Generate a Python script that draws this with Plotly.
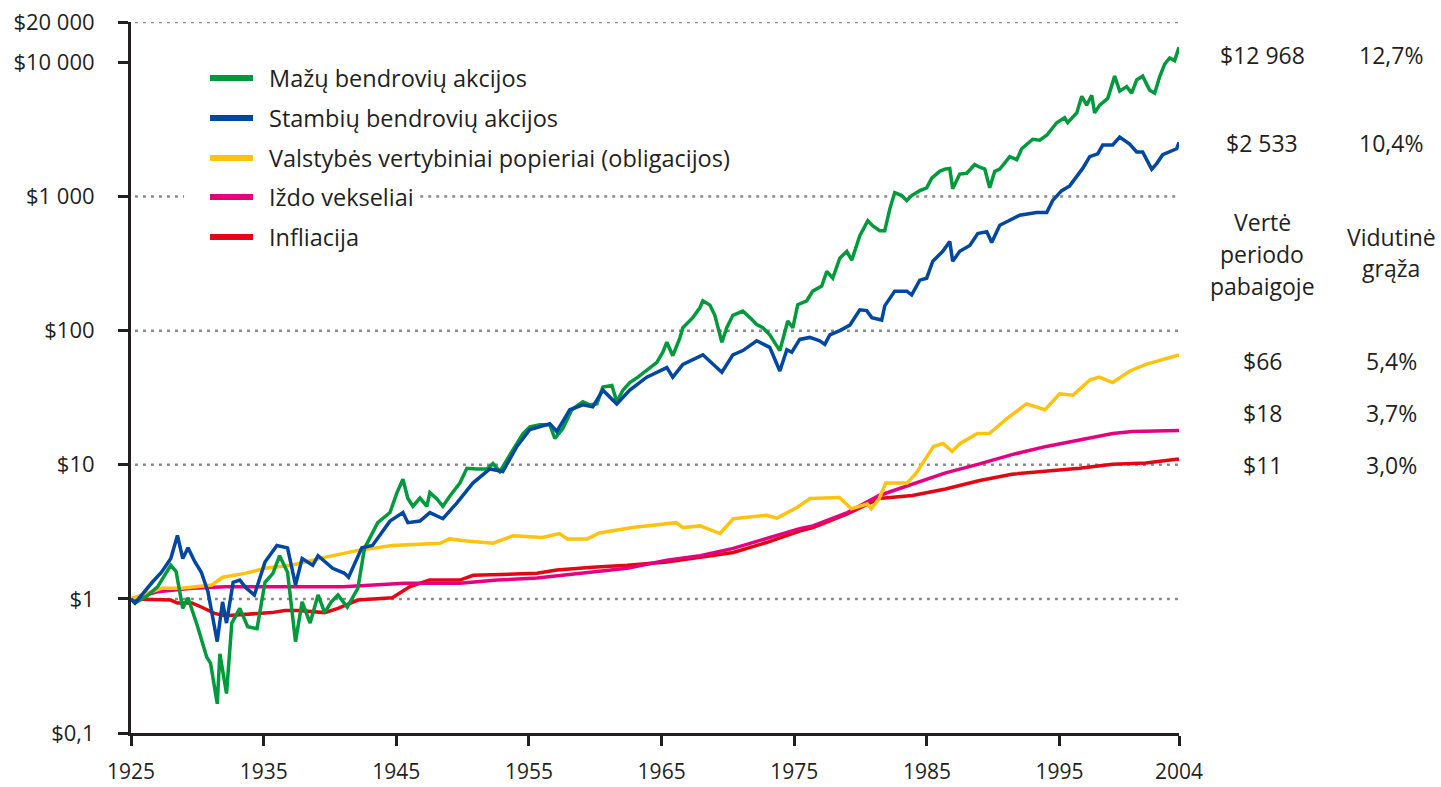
import plotly.graph_objects as go

# augimo kreivės: $1 investuota 1925 m. (vertės nuskaitytos nuo grafiko)
small_years = [1925.0, 1925.3, 1926.2, 1927.0, 1928.0, 1928.4, 1928.9, 1929.3, 1930.0, 1930.7,
               1931.0, 1931.5, 1931.7, 1932.2, 1932.6, 1933.2, 1933.8, 1934.5, 1935.1, 1935.7,
               1936.2, 1936.8, 1937.4, 1937.9, 1938.5, 1939.1, 1939.6, 1940.1, 1940.6, 1941.3,
               1942.1, 1942.6, 1943.6, 1944.52, 1945.05, 1945.5, 1945.87, 1946.25, 1946.78, 1947.3,
               1947.53, 1948.06, 1948.51, 1949.04, 1949.79, 1950.32, 1951.07, 1951.83, 1952.28, 1952.81,
               1953.41, 1954.09, 1954.54, 1955.07, 1955.82, 1956.57, 1956.95, 1957.55, 1958.23, 1959.06,
               1959.59, 1960.12, 1960.57, 1961.25, 1961.62, 1962.08, 1962.6, 1963.21, 1963.88, 1964.64,
               1965.09, 1965.39, 1965.84, 1966.37, 1966.6, 1967.13, 1967.35, 1967.88, 1968.11, 1968.64,
               1969.01, 1969.54, 1969.91, 1970.37, 1971.12, 1971.65, 1972.17, 1972.63, 1973.15, 1973.91,
               1974.28, 1974.51, 1974.89, 1975.26, 1975.94, 1976.39, 1977.07, 1977.45, 1977.9, 1978.43,
               1978.96, 1979.33, 1979.94, 1980.54, 1980.92, 1981.44, 1981.82, 1982.2, 1982.57, 1983.1,
               1983.48, 1983.85, 1984.46, 1984.98, 1985.36, 1985.96, 1986.34, 1986.72, 1986.94, 1987.47,
               1988.0, 1988.6, 1988.83, 1989.36, 1989.73, 1990.11, 1990.49, 1991.24, 1991.77, 1992.14,
               1992.97, 1993.5, 1994.03, 1994.78, 1995.38, 1995.61, 1996.29, 1996.67, 1997.04, 1997.42,
               1997.64, 1998.02, 1998.63, 1999.0, 1999.15, 1999.53, 2000.06, 2000.43, 2000.81, 2001.26,
               2001.79, 2002.17, 2002.54, 2002.92, 2003.3, 2003.67, 2004.0]
small_vals = [1.0, 0.93, 1.05, 1.23, 1.78, 1.6, 0.85, 1.02, 0.63, 0.37,
              0.33, 0.165, 0.39, 0.197, 0.66, 0.85, 0.62, 0.6, 1.33, 1.55,
              2.1, 1.58, 0.48, 0.95, 0.66, 1.07, 0.79, 0.95, 1.07, 0.87,
              1.2, 2.38, 3.7, 4.4, 6.2, 7.8, 5.6, 4.9, 5.65, 4.9,
              6.2, 5.56, 4.9, 5.85, 7.3, 9.4, 9.3, 9.3, 10.2, 8.9,
              11.2, 14.4, 17.0, 19.2, 19.9, 19.9, 15.7, 18.6, 25.7, 29.5,
              28.0, 28.4, 38, 39, 29.5, 36, 41, 45, 50.5, 58,
              69, 82, 65, 88, 105, 118, 125, 148, 167, 155,
              130, 82, 105, 130, 140, 125, 111, 105, 93, 71,
              100, 118, 105, 156, 167, 197, 215, 277, 246, 347,
              390, 335, 511, 660, 604, 556, 556, 809, 1070, 1017,
              935, 1017, 1105, 1160, 1370, 1540, 1600, 1620, 1140, 1470,
              1490, 1730, 1680, 1600, 1160, 1540, 1600, 1980, 1880, 2270,
              2670, 2630, 2860, 3550, 3870, 3550, 4200, 5580, 4800, 5680,
              4200, 4800, 5390, 6900, 7900, 6100, 6600, 5900, 7400, 7900,
              6200, 5900, 7800, 9700, 10800, 10300, 12968]

large_years = [1925.0, 1925.3, 1926.6, 1927.3, 1928.0, 1928.5, 1928.9, 1929.3, 1929.8, 1930.3,
               1930.8, 1931.5, 1931.9, 1932.2, 1932.7, 1933.2, 1933.7, 1934.3, 1935.1, 1936.0,
               1936.8, 1937.4, 1937.9, 1938.7, 1939.1, 1939.6, 1940.2, 1941.1, 1941.4, 1942.4,
               1943.2, 1944.52, 1945.5, 1945.87, 1946.78, 1947.53, 1948.51, 1949.57, 1950.77, 1952.05,
               1953.03, 1954.09, 1955.07, 1956.57, 1957.1, 1958.08, 1959.06, 1959.81, 1960.57, 1961.62,
               1962.6, 1963.88, 1965.39, 1965.84, 1966.6, 1968.11, 1969.54, 1970.37, 1971.12, 1972.17,
               1973.15, 1973.91, 1974.44, 1974.81, 1975.41, 1976.17, 1976.92, 1977.3, 1977.68, 1978.43,
               1979.19, 1979.94, 1980.46, 1980.84, 1981.59, 1981.82, 1982.57, 1983.48, 1983.85, 1984.46,
               1984.98, 1985.44, 1986.19, 1986.72, 1986.94, 1987.47, 1988.23, 1988.83, 1989.51, 1989.88,
               1990.49, 1991.24, 1991.99, 1993.27, 1994.03, 1994.48, 1995.16, 1995.76, 1996.29, 1996.74,
               1997.27, 1997.87, 1998.25, 1999.0, 1999.53, 1999.91, 2000.28, 2000.81, 2001.26, 2001.94,
               2002.32, 2002.77, 2003.3, 2003.82, 2004.0]
large_vals = [1.0, 0.93, 1.33, 1.58, 2.0, 2.97, 2.0, 2.4, 1.9, 1.58,
              1.13, 0.48, 0.95, 0.66, 1.33, 1.38, 1.2, 1.07, 1.88, 2.5,
              2.4, 1.27, 2.0, 1.78, 2.1, 1.9, 1.69, 1.55, 1.45, 2.4,
              2.5, 3.8, 4.4, 3.7, 3.8, 4.4, 3.96, 5.2, 7.3, 9.3,
              8.9, 13.7, 18.3, 20.2, 17.7, 25.7, 28, 27, 36, 28.4,
              36, 45, 53, 45, 56, 66, 49, 66, 71, 84,
              75, 50, 72, 69, 86, 89, 84, 79, 93, 100,
              110, 143, 141, 125, 120, 153, 197, 197, 185, 238,
              246, 329, 390, 461, 329, 390, 431, 529, 547, 454,
              611, 665, 725, 760, 760, 935, 1105, 1200, 1420, 1620,
              1980, 2080, 2420, 2420, 2770, 2630, 2460, 2150, 2150, 1600,
              1760, 2050, 2150, 2270, 2533]

bond_years = [1925.0, 1927.3, 1928.8, 1931.1, 1931.9, 1933.6, 1935.1, 1937.1, 1939.6, 1942.1,
              1944.7, 1948.3, 1949.0, 1950.3, 1952.3, 1953.8, 1956.0, 1957.3, 1957.9, 1959.4,
              1960.3, 1962.8, 1966.1, 1966.6, 1967.9, 1969.4, 1970.4, 1972.9, 1973.7, 1975.2,
              1976.2, 1978.4, 1979.3, 1980.5, 1980.8, 1981.4, 1981.9, 1983.5, 1984.2, 1985.5,
              1986.2, 1986.9, 1987.5, 1988.8, 1989.7, 1991.0, 1992.5, 1993.9, 1995.0, 1996.0,
              1997.3, 1998.0, 1999.0, 2000.3, 2001.5, 2002.8, 2004.0]
bond_vals = [1.0, 1.2, 1.2, 1.27, 1.45, 1.55, 1.69, 1.78, 2.04, 2.3,
             2.5, 2.6, 2.8, 2.7, 2.6, 2.96, 2.87, 3.07, 2.8, 2.8,
             3.1, 3.4, 3.7, 3.4, 3.5, 3.07, 3.96, 4.2, 4.0, 4.8,
             5.6, 5.7, 4.7, 5.1, 4.7, 5.6, 7.3, 7.3, 8.7, 13.7,
             14.4, 12.6, 14.4, 17.1, 17.1, 22, 28.4, 25.7, 33.8, 33,
             43, 45, 41, 50, 56, 61, 66]

bill_years = [1925.0, 1927.0, 1929.6, 1932.1, 1941.0, 1943.2, 1945.6, 1949.8, 1952.6, 1955.6,
              1959.1, 1962.4, 1965.4, 1967.9, 1970.4, 1972.9, 1975.4, 1976.4, 1979.0, 1981.4,
              1983.9, 1986.4, 1988.9, 1991.4, 1994.0, 1996.5, 1999.0, 2000.5, 2002.8, 2004.0]
bill_vals = [1.0, 1.13, 1.2, 1.23, 1.23, 1.27, 1.31, 1.31, 1.38, 1.43,
             1.55, 1.69, 1.94, 2.1, 2.38, 2.8, 3.34, 3.5, 4.4, 5.9,
             7.2, 8.7, 10.1, 11.9, 13.7, 15.4, 17.1, 17.7, 17.9, 18]

infl_years = [1925.0, 1928.0, 1928.5, 1929.6, 1930.3, 1931.3, 1932.1, 1934.6, 1935.6, 1936.6,
              1937.6, 1939.6, 1940.6, 1942.1, 1944.7, 1946.0, 1947.5, 1949.8, 1950.8, 1955.6,
              1957.1, 1959.8, 1962.4, 1965.4, 1967.9, 1970.4, 1972.9, 1975.4, 1976.4, 1979.0,
              1981.4, 1983.9, 1986.4, 1988.9, 1991.4, 1994.0, 1996.5, 1999.0, 2001.5, 2003.8,
              2004.0]
infl_vals = [1.0, 0.98, 0.93, 0.93, 0.87, 0.78, 0.75, 0.78, 0.79, 0.82,
             0.82, 0.79, 0.85, 0.98, 1.02, 1.23, 1.38, 1.38, 1.5, 1.55,
             1.64, 1.72, 1.78, 1.88, 2.04, 2.22, 2.63, 3.2, 3.4, 4.3,
             5.6, 5.9, 6.6, 7.6, 8.5, 8.9, 9.4, 10.1, 10.3, 11, 11]

names = ["Mažų bendrovių akcijos", "Stambių bendrovių akcijos",
         "Valstybės vertybiniai popieriai (obligacijos)", "Iždo vekseliai", "Infliacija"]
colors = ["#009a3d", "#0047a0", "#ffc20e", "#e6007e", "#e30613"]
end_values = ["$12 968", "$2 533", "$66", "$18", "$11"]
avg_returns = ["12,7%", "10,4%", "5,4%", "3,7%", "3,0%"]

y_ticks = [0.1, 1, 10, 100, 1000, 10000, 20000]
y_ticktext = ["$0,1", "$1", "$10", "$100", "$1 000", "$10 000", "$20 000"]
x_ticks = [1925, 1935, 1945, 1955, 1965, 1975, 1985, 1995, 2004]

FONT = "Open Sans"
INK = "#231f20"
# plot area in pixels
PL, PR, PT, PB = 131, 1179, 22, 733


def px(x):
    return (x - PL) / (PR - PL)


def py(y):
    return (PB - y) / (PB - PT)


fig = go.Figure()

series = [(infl_years, infl_vals, 4), (bill_years, bill_vals, 3), (bond_years, bond_vals, 2),
          (small_years, small_vals, 0), (large_years, large_vals, 1)]
for xs, ys, i in series:
    fig.add_trace(go.Scatter(x=xs, y=ys, mode="lines", name=names[i],
                             line=dict(color=colors[i], width=3.5), showlegend=False))

# dotted gridlines
grid = dict(color="#8c8c8c", width=2.5, dash="3px,5px")
for v in [20000, 100, 10, 1]:
    fig.add_shape(type="line", xref="x", yref="y", x0=1925.3, x1=2004, y0=v, y1=v,
                  line=grid, layer="below")
fig.add_shape(type="line", xref="x", yref="y", x0=1925.3, x1=1929.0, y0=1000, y1=1000,
              line=grid, layer="below")
fig.add_shape(type="line", xref="x", yref="y", x0=1946.8, x1=2004, y0=1000, y1=1000,
              line=grid, layer="below")

annotations = []
# legend drawn by hand
leg_y = [78, 118, 158, 197, 237]
for i, name in enumerate(names):
    fig.add_shape(type="line", xref="paper", yref="paper", x0=px(210), x1=px(253),
                  y0=py(leg_y[i]), y1=py(leg_y[i]), line=dict(color=colors[i], width=6))
    annotations.append(dict(xref="paper", yref="paper", x=px(267), y=py(leg_y[i]),
                            text=name, showarrow=False, xanchor="left", yanchor="middle",
                            font=dict(size=23.5, color=INK)))

# right-hand table
col1, col2 = px(1262), px(1391)
row_y = [55, 143, 361, 413, 465]
tfont = dict(size=23, color=INK)
for i in range(5):
    annotations.append(dict(xref="paper", yref="paper", x=col1, y=py(row_y[i]),
                            text=end_values[i], showarrow=False, xanchor="center",
                            yanchor="middle", font=tfont))
    annotations.append(dict(xref="paper", yref="paper", x=col2, y=py(row_y[i]),
                            text=avg_returns[i], showarrow=False, xanchor="center",
                            yanchor="middle", font=tfont))
for txt, yy in [("Vertė", 222), ("periodo", 254), ("pabaigoje", 286)]:
    annotations.append(dict(xref="paper", yref="paper", x=col1, y=py(yy), text=txt,
                            showarrow=False, xanchor="center", yanchor="middle", font=tfont))
for txt, yy in [("Vidutinė", 237), ("grąža", 268)]:
    annotations.append(dict(xref="paper", yref="paper", x=col2, y=py(yy), text=txt,
                            showarrow=False, xanchor="center", yanchor="middle", font=tfont))

fig.update_layout(
    width=1441, height=787,
    margin=dict(l=PL, r=1441 - PR, t=PT, b=787 - PB),
    paper_bgcolor="white", plot_bgcolor="white",
    font=dict(family=FONT, size=22, color=INK),
    annotations=annotations,
)
fig.update_xaxes(range=[1925, 2004], tickvals=x_ticks, ticks="outside", ticklen=10,
                 tickwidth=3, tickcolor=INK, showline=True, linewidth=3, linecolor=INK,
                 showgrid=False, zeroline=False, tickfont=dict(size=21, color=INK),
                 ticklabelstandoff=8, automargin=False)
fig.update_yaxes(type="log", range=[-1, 4.30103], tickvals=y_ticks, ticktext=y_ticktext,
                 ticks="outside", ticklen=10, tickwidth=3, tickcolor=INK, showline=True,
                 linewidth=3, linecolor=INK, showgrid=False, zeroline=False,
                 tickfont=dict(size=22, color=INK), ticklabelstandoff=19, automargin=False)

fig.write_html("out.html", config={"displayModeBar": False},
               post_script="document.body.style.margin='0';")
